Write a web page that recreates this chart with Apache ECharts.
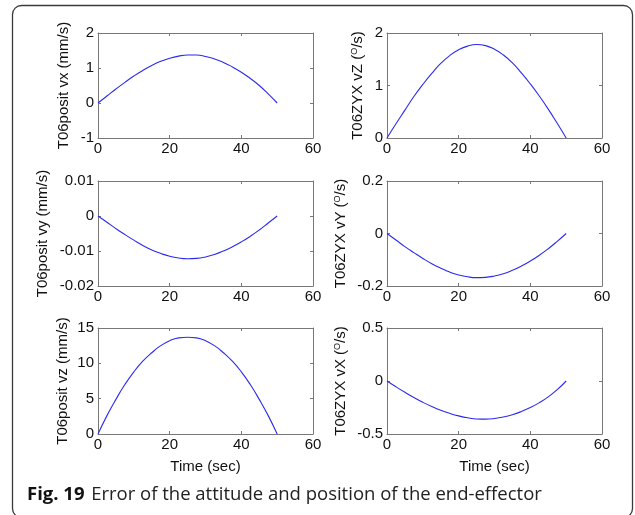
<!DOCTYPE html>
<html>
<head>
<meta charset="utf-8">
<script src="https://cdn.jsdelivr.net/npm/echarts@6/dist/echarts.min.js"></script>
<style>
  html, body { margin: 0; padding: 0; background: #fff; }
  #main { width: 635px; height: 515px; }
</style>
</head>
<body>
<div id="main"></div>
<script>
// time samples (sec)
var time = [0, 2.5, 5, 7.5, 10, 12.5, 15, 17.5, 20, 22.5, 25, 27.5, 30, 32.5, 35, 37.5, 40, 42.5, 45, 47.5, 50];

// values
var positVx = [0, 0.20, 0.40, 0.59, 0.77, 0.93, 1.07, 1.19, 1.28, 1.34, 1.37, 1.37, 1.33, 1.26, 1.16, 1.03, 0.88, 0.70, 0.50, 0.26, 0];
var zyxVz = [0, 0.27, 0.53, 0.79, 1.02, 1.23, 1.42, 1.57, 1.68, 1.75, 1.78, 1.76, 1.69, 1.58, 1.43, 1.24, 1.03, 0.80, 0.55, 0.28, 0];
var positVy = [0, -0.0018, -0.0036, -0.0053, -0.0069, -0.0084, -0.0097, -0.0107, -0.0115, -0.0120, -0.0122, -0.0121, -0.0117, -0.0110, -0.0100, -0.0088, -0.0074, -0.0058, -0.0040, -0.0020, 0];
var zyxVy = [0, -0.025, -0.050, -0.073, -0.095, -0.115, -0.132, -0.147, -0.158, -0.165, -0.168, -0.167, -0.162, -0.153, -0.140, -0.124, -0.105, -0.083, -0.058, -0.030, 0];
var positVz = [0, 2.6, 4.9, 7.0, 8.8, 10.3, 11.5, 12.5, 13.2, 13.6, 13.7, 13.6, 13.2, 12.5, 11.5, 10.3, 8.8, 7.0, 4.9, 2.6, 0];
var zyxVx = [0, -0.055, -0.107, -0.156, -0.201, -0.241, -0.276, -0.305, -0.329, -0.347, -0.358, -0.360, -0.354, -0.340, -0.318, -0.288, -0.251, -0.205, -0.150, -0.082, 0];

// axis ranges per panel: [min, max, interval]
var xRange = [0, 60, 20];
var yRanges = [[-1, 2, 1], [0, 2, 1], [-0.02, 0.01, 0.01], [-0.2, 0.2, 0.2], [0, 15, 5], [-0.5, 0.5, 0.5]];
var yNames = [
  'T06posit vx (mm/s)', 'T06ZYX vZ ({sup|O}/s)',
  'T06posit vy (mm/s)', 'T06ZYX vY ({sup|O}/s)',
  'T06posit vz (mm/s)', 'T06ZYX vX ({sup|O}/s)'
];
var seriesData = [positVx, zyxVz, positVy, zyxVy, positVz, zyxVx];

var grids = [
  {left: 98, top: 33, width: 215, height: 105},
  {left: 387, top: 33, width: 215, height: 105},
  {left: 98, top: 181, width: 215, height: 105},
  {left: 387, top: 181, width: 215, height: 105},
  {left: 98, top: 328, width: 215, height: 106},
  {left: 387, top: 328, width: 215, height: 106}
];
var nameGaps = [27, 22, 48, 39, 28, 39];

var FONT = '"Liberation Sans", Arial, sans-serif';
var lineCol = '#777';

var xAxes = [], yAxes = [], series = [];
for (var i = 0; i < 6; i++) {
  var bottomRow = i >= 4;
  xAxes.push({
    type: 'value', gridIndex: i, position: 'bottom',
    min: xRange[0], max: xRange[1], interval: xRange[2],
    name: bottomRow ? 'Time (sec)' : '', nameLocation: 'middle', nameGap: 25,
    nameTextStyle: {color: '#111', fontSize: 15, fontFamily: FONT},
    axisLine: {show: true, onZero: false, lineStyle: {color: lineCol, width: 1}},
    axisTick: {show: true, inside: true, length: 3, lineStyle: {color: lineCol}},
    axisLabel: {color: '#111', fontSize: 15, fontFamily: FONT, margin: 3},
    splitLine: {show: false}
  });
  // top edge of the box, ticks only
  xAxes.push({
    type: 'value', gridIndex: i, position: 'top',
    min: xRange[0], max: xRange[1], interval: xRange[2],
    axisLine: {show: true, onZero: false, lineStyle: {color: lineCol, width: 1}},
    axisTick: {show: true, inside: true, length: 3, lineStyle: {color: lineCol}},
    axisLabel: {show: false},
    splitLine: {show: false}
  });
  var yr = yRanges[i];
  yAxes.push({
    type: 'value', gridIndex: i, position: 'left',
    min: yr[0], max: yr[1], interval: yr[2],
    name: yNames[i], nameLocation: 'middle', nameGap: nameGaps[i], nameRotate: 90,
    nameTextStyle: {
      color: '#111', fontSize: 15, fontFamily: FONT,
      rich: {sup: {fontSize: 9, fontFamily: FONT, color: '#111', verticalAlign: 'top', lineHeight: 9}}
    },
    axisLine: {show: true, onZero: false, lineStyle: {color: lineCol, width: 1}},
    axisTick: {show: true, inside: true, length: 3, lineStyle: {color: lineCol}},
    axisLabel: {color: '#111', fontSize: 15, fontFamily: FONT, margin: 4},
    splitLine: {show: false}
  });
  // right edge of the box, ticks only
  yAxes.push({
    type: 'value', gridIndex: i, position: 'right',
    min: yr[0], max: yr[1], interval: yr[2],
    axisLine: {show: true, onZero: false, lineStyle: {color: lineCol, width: 1}},
    axisTick: {show: true, inside: true, length: 3, lineStyle: {color: lineCol}},
    axisLabel: {show: false},
    splitLine: {show: false}
  });
  var pts = [];
  for (var k = 0; k < time.length; k++) {
    pts.push([time[k], seriesData[i][k]]);
  }
  series.push({
    type: 'line', xAxisIndex: 2 * i, yAxisIndex: 2 * i,
    data: pts, smooth: true, showSymbol: false, animation: false,
    lineStyle: {color: '#2b2bf0', width: 1.1}
  });
}

var myChart = echarts.init(document.getElementById('main'));
myChart.setOption({
  animation: false,
  backgroundColor: '#fff',
  grid: grids,
  xAxis: xAxes,
  yAxis: yAxes,
  series: series,
  graphic: [
    {
      type: 'rect', silent: true,
      shape: {x: 12.5, y: 5.5, width: 620, height: 512, r: 9},
      style: {fill: null, stroke: '#3a3a3a', lineWidth: 1.3}
    },
    {
      type: 'text', silent: true, x: 27, y: 495,
      style: {
        text: '{b|Fig. 19}  {n|Error of the attitude and position of the end-effector}',
        verticalAlign: 'middle',
        rich: {
          b: {fontFamily: '"Open Sans", sans-serif', fontWeight: 'bold', fontSize: 18.5, fill: '#111'},
          n: {fontFamily: '"Open Sans", sans-serif', fontSize: 18.5, fill: '#222'}
        }
      }
    }
  ]
});
</script>
</body>
</html>
